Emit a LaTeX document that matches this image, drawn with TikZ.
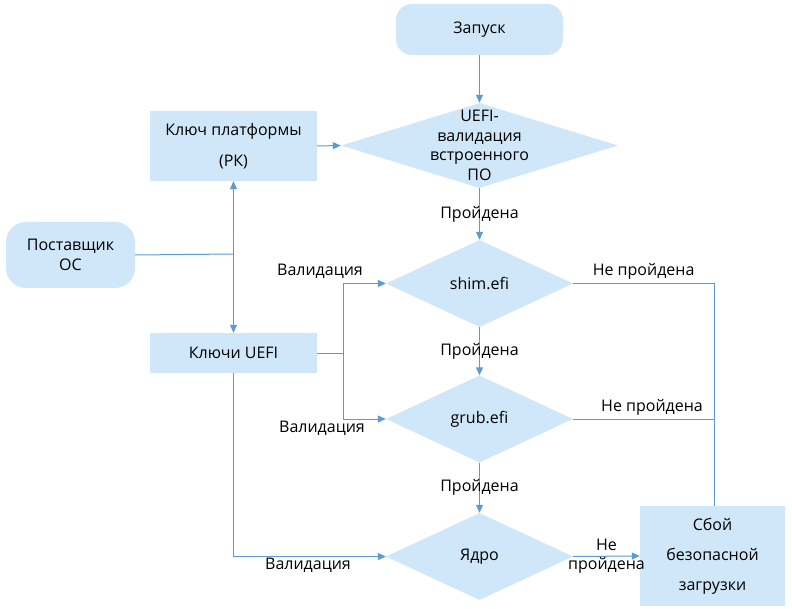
\documentclass[tikz,border=0pt]{standalone}
\usepackage{fontspec}
\setmainfont{Open Sans}
\usetikzlibrary{shapes.geometric,arrows.meta}
\definecolor{boxfill}{RGB}{208,231,249}
\definecolor{linec}{RGB}{91,155,213}
\begin{document}
\begin{tikzpicture}[x=1pt,y=-1pt,font=\fontsize{16}{19.5}\selectfont,block/.style={shape=rectangle,fill=boxfill,inner sep=0pt},term/.style={block,rounded corners=16pt},decis/.style={shape=diamond,fill=boxfill,inner sep=0pt,minimum width=187,minimum height=87},link/.style={draw=linec,line width=1pt},arr/.style={link,-{Triangle[length=8pt,width=7pt]}}]
\useasboundingbox (0,0) rectangle (792,609);
\def\xm{479.5};
\def\xk{233.5};

\node[term,minimum width=167,minimum height=51] (start) at (\xm,29.5) {Запуск};

\node[decis,minimum width=277,minimum height=85] (uefi) at (\xm,145.5) {};
\node[align=center] (uefit) at (uefi.center) {UEFI-\\валидация\\встроенного\\ПО};
\draw[arr] (start.south) -- (uefi.north);

\node[block,minimum width=167,minimum height=70,align=center] (pk) at (\xk,146) {Ключ платформы\\[11.5pt](РК)};
\draw[arr] (pk.east) -- (uefi.west);

\node[term,rounded corners=20pt,minimum width=129,minimum height=66,align=center] (os) at (70.5,255) {Поставщик\\ОС};
\node[block,minimum width=167,minimum height=40] (keys) at (\xk,353) {Ключи UEFI};
\coordinate (jos) at (\xk,254);
\draw[link] (os.east) -- (jos);
\draw[arr] (jos) -- (pk.south);
\draw[arr] (jos) -- (keys.north);

\node[decis] (shim) at (\xm,283.5) {shim.efi};
\node[decis] (grub) at (\xm,419) {grub.efi};
\node[decis] (kern) at (\xm,556.5) {Ядро};
\draw[arr] (uefi.south) -- node {Пройдена} (shim.north);
\draw[arr] (shim.south) -- node {Пройдена} (grub.north);
\draw[arr] (grub.south) -- node {Пройдена} (kern.north);

\coordinate (jval) at (343,353);
\draw[link] (keys.east) -- (jval);
\draw[arr] (jval) |- (shim.west);
\draw[arr] (jval) |- (grub.west);
\draw[arr] (keys.south) |- (kern.west);
\node (val1) at (320,271) {Валидация};
\node (val2) at (322,428) {Валидация};
\node (val3) at (308,565) {Валидация};

\node[block,minimum width=145,minimum height=100,align=center] (fail) at (712.5,556) {Сбой\\[10.5pt]безопасной\\[10.5pt]загрузки};
\draw[arr] (kern.east) -- node[align=center] {Не\\пройдена} (fail.west);

\coordinate (jfail) at (714,283.5);
\draw[link] (shim.east) -- node[above] {Не пройдена} (jfail) -- (jfail |- fail.north);
\draw[link] (grub.east) -- node[above,pos=0.56] {Не пройдена} (jfail |- grub.east);
\end{tikzpicture}
\end{document}
